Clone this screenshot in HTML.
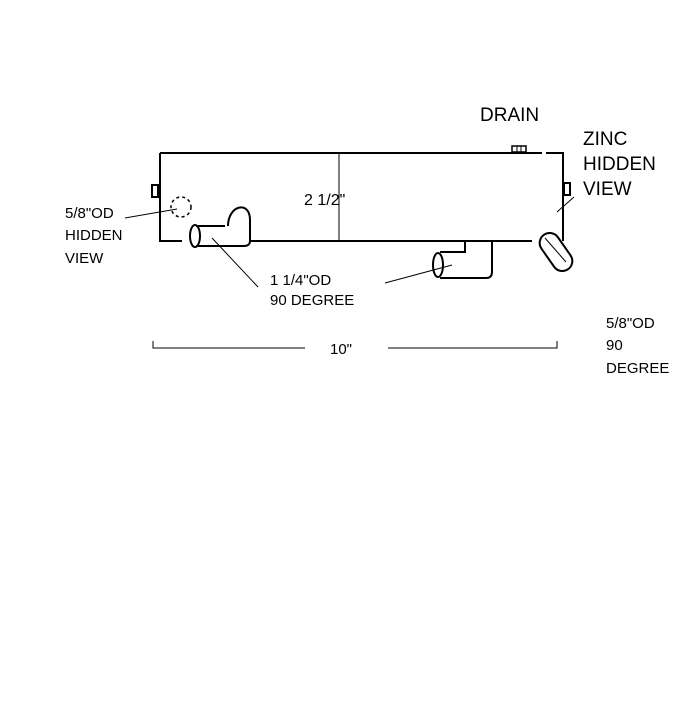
<!DOCTYPE html>
<html><head><style>
body{margin:0;background:#fff}
svg text{font-family:"Liberation Sans",sans-serif;fill:#000}
</style></head><body>
<svg width="700" height="700" viewBox="0 0 700 700" xmlns="http://www.w3.org/2000/svg">
<rect width="700" height="700" fill="#fff"/>
<g stroke="#000" fill="none" stroke-width="2">
<path d="M160 153 H542 M546 153 H563 V241"/>
<path d="M160 153 V241 H182"/>
<path d="M250 241 H532"/>
<path d="M339 152 V241" stroke-width="1"/>
<rect x="152" y="185" width="6" height="12"/>
<rect x="564" y="183" width="6" height="12"/>
<rect x="512" y="146" width="14" height="6" stroke-width="1.5"/>
<path d="M517 146 V152 M521 146 V152" stroke-width="1"/>
<circle cx="181" cy="207" r="10" stroke-dasharray="3 3" stroke-width="1.5"/>
<!-- left elbow -->
<path d="M196 226 H225 M228 226 C228 205 250 200 250 220 V241 C250 244 248 246 244 246 H196"/>
<ellipse cx="195" cy="236" rx="5" ry="11"/>
<!-- bottom elbow -->
<path d="M465 241 V252 H440 M492 241 V272 C492 276 490 278 486 278 H440"/>
<ellipse cx="438" cy="265" rx="5" ry="12"/>
<!-- right pipe -->
<g transform="rotate(55 556 252)">
<rect x="535" y="242" width="42" height="20" rx="10"/>
</g>
<path d="M153 341 V348 H305 M388 348 H557 V341" stroke-width="1"/>
</g>
<g stroke="#000" stroke-width="1">
<line x1="125" y1="218" x2="177" y2="209"/>
<line x1="212" y1="238" x2="258" y2="287"/>
<line x1="385" y1="283" x2="452" y2="265"/>
<line x1="557" y1="212" x2="574" y2="197"/>
<line x1="545" y1="238" x2="566" y2="262"/>
</g>
<text x="304" y="205" font-size="16">2 1/2"</text>
<text x="270" y="285" font-size="15">1 1/4"OD</text>
<text x="270" y="305" font-size="15">90 DEGREE</text>
<text x="330" y="354" font-size="15">10"</text>
<text x="65" y="218" font-size="15">5/8"OD</text>
<text x="65" y="240" font-size="15">HIDDEN</text>
<text x="65" y="263" font-size="15">VIEW</text>
<text x="480" y="121" font-size="19">DRAIN</text>
<text x="583" y="145" font-size="19">ZINC</text>
<text x="583" y="170" font-size="19">HIDDEN</text>
<text x="583" y="195" font-size="19">VIEW</text>
<text x="606" y="328" font-size="15">5/8"OD</text>
<text x="606" y="350" font-size="15">90</text>
<text x="606" y="373" font-size="15">DEGREE</text>
</svg>
</body></html>
